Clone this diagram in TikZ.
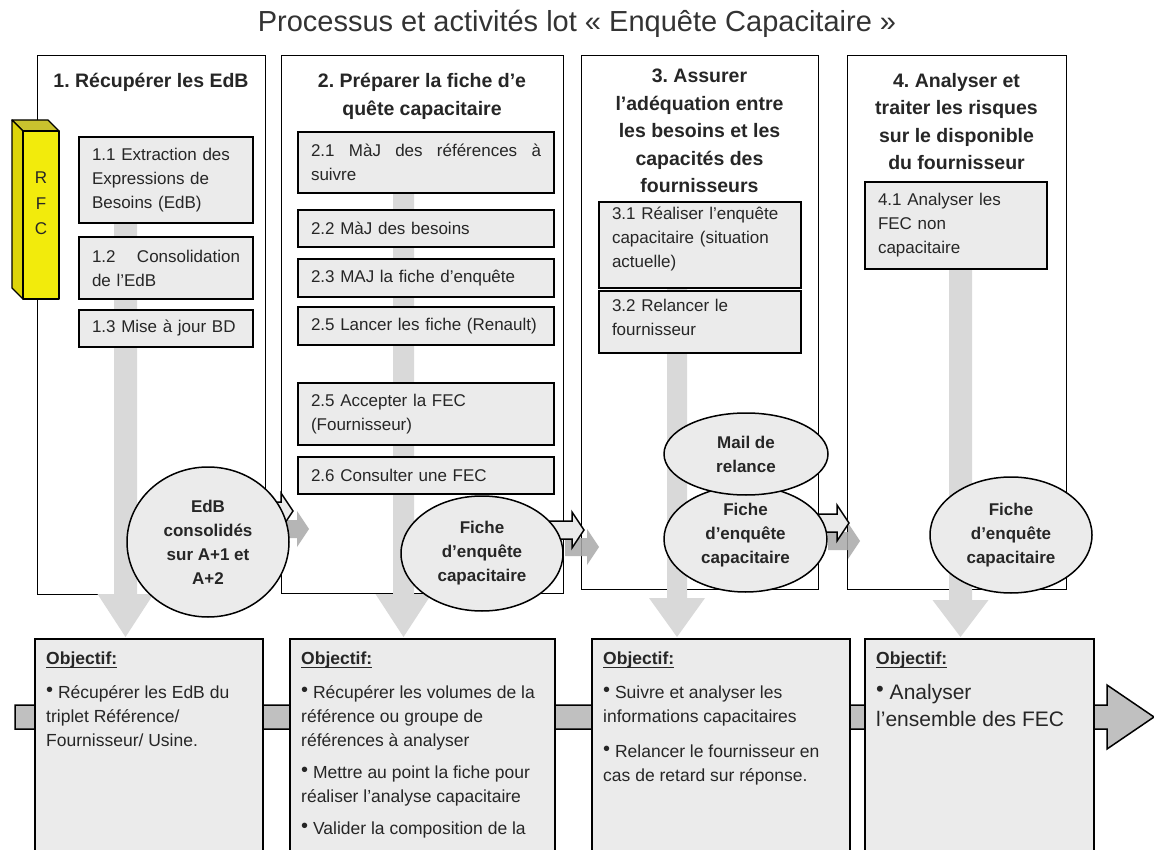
\documentclass[tikz,border=0pt]{standalone}
\usepackage{fontspec}
\setmainfont{Liberation Sans}
\usetikzlibrary{shapes.geometric}
\definecolor{txt}{HTML}{262626}
\definecolor{titlecol}{HTML}{333333}
\definecolor{boxgrey}{HTML}{EBEBEB}
\definecolor{arrowgrey}{HTML}{D9D9D9}
\definecolor{bargrey}{HTML}{C0C0C0}
\definecolor{shadowgrey}{HTML}{A9A9A9}
\definecolor{rfcfront}{HTML}{F2EB0C}
\definecolor{rfctop}{HTML}{C9C22E}
\definecolor{rfcside}{HTML}{DDD40A}
\newcommand\mysubfont{\fontsize{17}{24}\selectfont}
\newcommand\myheadfont{\fontsize{19.5}{28}\selectfont\bfseries}
\newcommand\myellfont{\fontsize{17}{24}\selectfont\bfseries}
\newcommand\myobjfont{\fontsize{17.5}{24}\selectfont}
\newcommand\mybigobjfont{\fontsize{21}{27}\selectfont}
\newcommand\mybul{\raisebox{2pt}{\fontsize{20}{20}\selectfont •}\ }
\newcommand\mybulbig{\raisebox{3pt}{\fontsize{22}{22}\selectfont •}\ }
\newcommand\myul[1]{\sbox0{#1}\rlap{\rule[-3.8pt]{\wd0}{1.3pt}}\usebox0}
\newcommand\blockarrow[4]{%
  \path[#1] (#2,#4-9) -- (#3-12,#4-9) -- (#3-12,#4-18) -- (#3,#4)
    -- (#3-12,#4+18) -- (#3-12,#4+9) -- (#2,#4+9) -- cycle;}
\newcommand\downarr[5]{%
  \fill[arrowgrey] (#1,#3) -- (#2,#3) -- (#2,#4) -- (#5+28,#4) -- (#5,637)
    -- (#5-28,#4) -- (#1,#4) -- cycle;}
\tikzset{
  colbox/.style={draw=black, line width=1.3pt, fill=white, inner sep=0pt, anchor=north west},
  objbox/.style={draw=black, line width=1.5pt, fill=boxgrey, inner sep=0pt, anchor=north west},
  subbox/.style={draw=black, line width=2pt, fill=boxgrey, inner xsep=13pt, inner ysep=0pt,
    align=left, font=\mysubfont, text=txt},
  ell/.style={ellipse, draw=black, line width=1.5pt, fill=boxgrey, inner sep=0pt,
    align=center, font=\myellfont, text=txt},
  headtext/.style={font=\myheadfont, align=center, text=txt, inner sep=0pt, anchor=base},
  objlabel/.style={font=\fontsize{17.5}{24}\selectfont\bfseries, text=txt, inner sep=0pt, anchor=base west},
  objtext/.style={font=\myobjfont, align=left, text=txt, inner sep=0pt, anchor=base west},
  outarrow/.style={draw=black, line width=1.5pt, fill=boxgrey, line join=miter},
  shadarrow/.style={fill=shadowgrey, fill opacity=0.85},
}
\begin{document}
\frenchspacing
\begin{tikzpicture}[x=1pt, y=-1pt]
\useasboundingbox (0,0) rectangle (1154,850);
\fill[white] (0,0) rectangle (1154,850);

% title
\node[font=\fontsize{29}{34}\selectfont, text=titlecol, anchor=base, inner sep=0pt] (title)
  at (577,32) {Processus et activités lot « Enquête Capacitaire »};

% horizontal process bar with arrow head
\path[draw=black, line width=1.5pt, fill=bargrey, line join=miter]
  (15,705) -- (1107,705) -- (1107,685) -- (1154,717) -- (1107,749) -- (1107,729) -- (15,729) -- cycle;

% objective boxes
\node[objbox, minimum width=228pt, minimum height=240pt] (o1) at (34,638) {};
\node[objbox, minimum width=265pt, minimum height=240pt] (o2) at (289,638) {};
\node[objbox, minimum width=258pt, minimum height=240pt] (o3) at (591,638) {};
\node[objbox, minimum width=229pt, minimum height=240pt] (o4) at (864,638) {};

% column boxes
\node[colbox, minimum width=228pt, minimum height=539pt] (c1) at (37,55) {};
\node[colbox, minimum width=282pt, minimum height=538pt] (c2) at (281,55) {};
\node[colbox, minimum width=237pt, minimum height=534pt] (c3) at (581,55) {};
\node[colbox, minimum width=219pt, minimum height=534pt] (c4) at (847,55) {};

% down arrows
\downarr{114}{137}{150}{594}{125.5}
\downarr{393}{414}{140}{594}{403.5}
\downarr{667}{687}{210}{598}{677}
\downarr{949}{972}{190}{600}{960.5}

% sub boxes column 1
\node[subbox, text width=148pt, minimum height=86pt] (b11) at (166,180)
  {1.1 Extraction des\\Expressions de\\Besoins (EdB)};
\node[subbox, text width=148pt, minimum height=62pt] (b12) at (166,268)
  {1.2\hfill Consolidation\\de l’EdB};
\node[subbox, text width=148pt, minimum height=37pt] (b13) at (166,328.5)
  {1.3 Mise à jour BD};
% column 2
\node[subbox, text width=230pt, minimum height=61pt] (b21) at (426,162.5)
  {2.1\hfill MàJ\hfill des\hfill références\hfill à\\suivre};
\node[subbox, text width=230pt, minimum height=37pt] (b22) at (426,228.5)
  {2.2 MàJ des besoins};
\node[subbox, text width=230pt, minimum height=38pt] (b23) at (426,278)
  {2.3 MAJ la fiche d’enquête};
\node[subbox, text width=230pt, minimum height=38pt] (b24) at (426,326)
  {2.5 Lancer les fiche (Renault)};
\node[subbox, text width=230pt, minimum height=62pt] (b25) at (426,414)
  {2.5 Accepter la FEC\\(Fournisseur)};
\node[subbox, text width=230pt, minimum height=37pt] (b26) at (426,475.5)
  {2.6 Consulter une FEC};
% column 3
\node[subbox, text width=176pt, minimum height=86pt] (b31) at (700,245)
  {3.1 Réaliser l’enquête\\capacitaire (situation\\actuelle)\rule[-15pt]{0pt}{15pt}};
\node[subbox, text width=176pt, minimum height=62pt] (b32) at (700,322)
  {3.2 Relancer le\\fournisseur\rule[-9pt]{0pt}{9pt}};
% column 4
\node[subbox, text width=156pt, minimum height=87pt] (b41) at (956,225.5)
  {4.1 Analyser les\\FEC non\\capacitaire};

% column headers (anchor = baseline of last line)
\node[headtext] (h1) at (151,88) {1. Récupérer les EdB};
\node[headtext] (h2) at (422,116) {2. Préparer la fiche d’e\\quête capacitaire};
\node[headtext, font=\fontsize{19.5}{27.5}\selectfont\bfseries] (h3) at (699.5,193)
  {3. Assurer\\l’adéquation entre\\les besoins et les\\capacités des\\fournisseurs};
\node[headtext, font=\fontsize{19.5}{27.5}\selectfont\bfseries] (h4) at (956.5,170)
  {4. Analyser et\\traiter les risques\\sur le disponible\\du fournisseur};

% transfer arrows with shadows
\blockarrow{shadarrow}{282}{309}{529}
\blockarrow{outarrow}{262}{293}{511}
\blockarrow{shadarrow}{565}{599}{547}
\blockarrow{outarrow}{548}{584}{530}
\blockarrow{shadarrow}{828}{860}{541}
\blockarrow{outarrow}{812}{849}{523}

% deliverables
\node[ell, minimum width=162pt, minimum height=150pt] (e1) at (208,542)
  {EdB\\consolidés\\sur A+1 et\\A+2};
\node[ell, minimum width=162pt, minimum height=115pt] (e2) at (482,553.5)
  {Fiche\\d’enquête\\capacitaire};
\node[ell, minimum width=163pt, minimum height=106pt] (e3) at (745.5,539)
  {Fiche\\d’enquête\\capacitaire\rule[-11pt]{0pt}{11pt}};
\node[ell, minimum width=164pt, minimum height=82pt] (e5) at (746,454)
  {Mail de\\relance};
\node[ell, minimum width=162pt, minimum height=116pt] (e4) at (1011,535)
  {Fiche\\d’enquête\\capacitaire};

% RFC 3D bar
\path[draw=black, line width=1.3pt, fill=rfctop, line join=round]
  (12,120) -- (48,120) -- (59,131) -- (23,131) -- cycle;
\path[draw=black, line width=1.3pt, fill=rfcside, line join=round]
  (12,120) -- (23,131) -- (23,299) -- (12,288) -- cycle;
\path[draw=black, line width=1.3pt, fill=rfcfront, line join=round]
  (23,131) rectangle (59,299);
\node[font=\fontsize{17}{25.5}\selectfont, text=txt, align=center, anchor=base, inner sep=0pt] (rfc)
  at (41,235) {R\\F\\C};

% objectives
\node[objlabel] (ol1) at (46,664) {\myul{Objectif:}};
\node[objlabel] (ol2) at (301,664) {\myul{Objectif:}};
\node[objlabel] (ol3) at (603,664) {\myul{Objectif:}};
\node[objlabel] (ol4) at (876,664) {\myul{Objectif:}};
\node[objtext] (t1) at (46,746)
  {\mybul Récupérer les EdB du\\triplet Référence/\\Fournisseur/ Usine.};
\node[objtext] (t2) at (301,834)
  {\mybul Récupérer les volumes de la\\référence ou groupe de\\références à analyser\\[8pt]%
   \mybul Mettre au point la fiche pour\\réaliser l’analyse capacitaire\\[8pt]%
   \mybul Valider la composition de la};
\node[objtext] (t3) at (603,781)
  {\mybul Suivre et analyser les\\informations capacitaires\\[11pt]%
   \mybul Relancer le fournisseur en\\cas de retard sur réponse.};
\node[objtext, font=\mybigobjfont] (t4) at (876,726)
  {\mybulbig Analyser\\l’ensemble des FEC};
\end{tikzpicture}
\end{document}
